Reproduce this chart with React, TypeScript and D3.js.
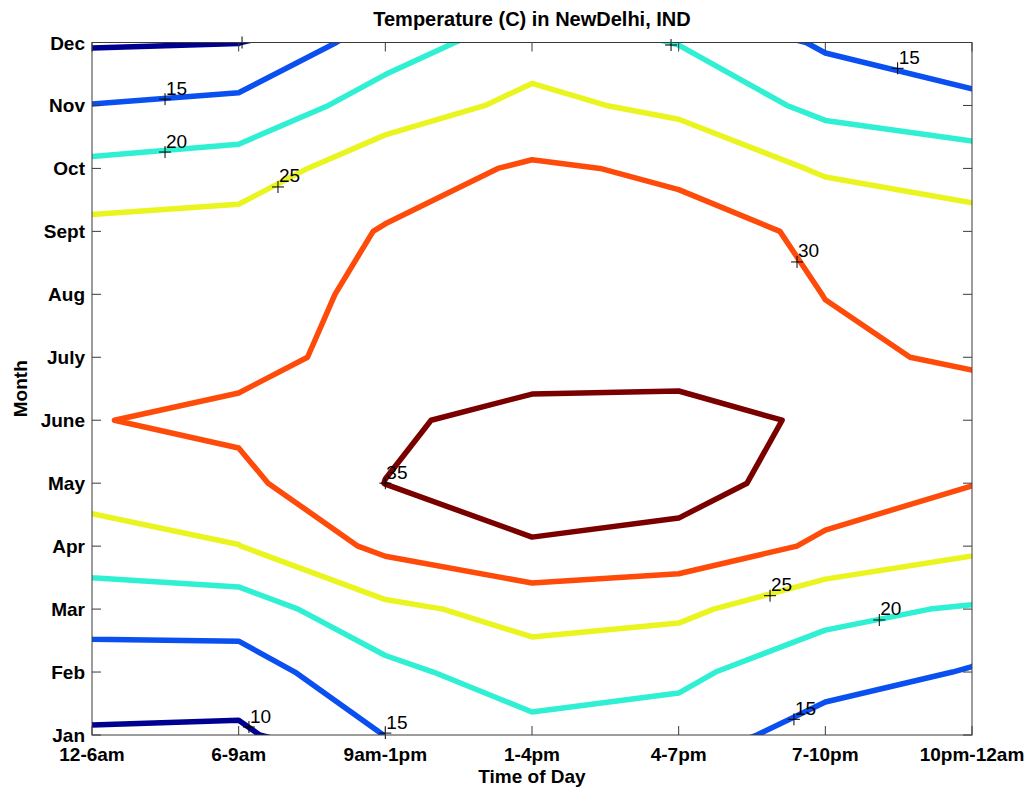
import React from "react";
import * as d3 from "d3";

const times = ["12-6am", "6-9am", "9am-1pm", "1-4pm", "4-7pm", "7-10pm", "10pm-12am"];
const months = ["Jan", "Feb", "Mar", "Apr", "May", "June", "July", "Aug", "Sept", "Oct", "Nov", "Dec"];

// mean temperature (C), one row per month, one column per time slot
const temps: number[][] = [
  [9.52, 9.15, 15.08, 18.36, 18.52, 11.92, 11.5],
  [12.55, 12.75, 18.61, 22.86, 20.74, 17.8, 14.57],
  [17.24, 17.34, 23.9, 26.7, 26.22, 21.1, 19.56],
  [22.78, 24.9, 31.17, 34.65, 32.95, 29.29, 26.02],
  [27.1, 28.73, 35.06, 37.09, 37.55, 32.08, 30.17],
  [29.82, 31.0, 34.17, 36.83, 36.7, 34.29, 31.5],
  [29.65, 28.69, 31.48, 32.43, 33.04, 30.52, 29.62],
  [28.72, 29.12, 30.46, 32.23, 32.07, 29.95, 28.65],
  [26.41, 27.03, 30.27, 31.79, 31.36, 29.39, 27.03],
  [21.14, 22.32, 28.02, 30.6, 29.31, 24.3, 22.56],
  [15.12, 16.29, 22.35, 26.24, 23.79, 18.66, 16.65],
  [9.5, 9.9, 17.56, 22.7, 19.84, 14.27, 10.43],
];

const levels = [10, 15, 20, 25, 30, 35];
const levelColors = ["#000090", "#0a50f0", "#30f0d4", "#eaf520", "#ff4b0a", "#7a0000"];

// clabel spots (time index, month index), text ("" = marker only)
const labelText = ["15", "20", "25", "10", "15", "35", "30", "15", "25", "20", "15", "", ""];
const labelTime = [0.498, 0.498, 1.268, 1.07, 2.0, 2.0, 4.807, 5.493, 4.623, 5.368, 4.786, 3.948, 1.023];
const labelMonth = [10.1, 9.26, 8.705, 0.127, 0.03, 4.0, 7.514, 10.59, 2.213, 1.827, 0.249, 10.96, 11.0];

const W = 1031, H = 791;
const margin = { left: 92, right: 59, top: 42.5, bottom: 56 };
const font = "'Liberation Sans', Arial, Helvetica, sans-serif";

export default function App() {
  const left = margin.left, right = W - margin.right, top = margin.top, bottom = H - margin.bottom;
  const x = d3.scaleLinear().domain([0, times.length - 1]).range([left, right]);
  const y = d3.scaleLinear().domain([0, months.length - 1]).range([bottom, top]);

  const values = temps.flat();
  const contours = d3.contours().size([times.length, months.length]).thresholds(levels)(values);
  const proj = d3.geoTransform({
    point(px: number, py: number) {
      (this as any).stream.point(x(px - 0.5), y(py - 0.5));
    },
  });
  const path = d3.geoPath(proj);
  const tick = 9;
  const axisColor = "#3a3a3a";

  return (
    <svg width={W} height={H} style={{ position: "absolute", left: 0, top: 0, background: "#fff" }} fontFamily={font}>
      <defs>
        <clipPath id="plot"><rect x={left} y={top} width={right - left} height={bottom - top} /></clipPath>
      </defs>
      <rect x={0} y={0} width={W} height={H} fill="#fff" />
      <g clipPath="url(#plot)">
        {contours.map((c, i) => (
          <path key={i} d={path(c as any) || ""} fill="none" stroke={levelColors[i]} strokeWidth={5.5} strokeLinejoin="round" />
        ))}
      </g>

      {/* contour labels */}
      {labelText.map((t, i) => {
        const px = x(labelTime[i]), py = y(labelMonth[i]);
        return (
          <g key={i}>
            <path d={`M${px - 6},${py}H${px + 6}M${px},${py - 6}V${py + 6}`} stroke="#000" strokeWidth={1} />
            {t && <text x={px + 1} y={py - 4.5} fontSize={19} fill="#000">{t}</text>}
          </g>
        );
      })}

      {/* ticks on all four sides */}
      <g stroke={axisColor} strokeWidth={1}>
        {times.map((_, i) => (
          <g key={i}>
            <line x1={x(i)} x2={x(i)} y1={bottom} y2={bottom - tick} />
            <line x1={x(i)} x2={x(i)} y1={top} y2={top + tick} />
          </g>
        ))}
        {months.map((_, i) => (
          <g key={i}>
            <line x1={left} x2={left + tick} y1={y(i)} y2={y(i)} />
            <line x1={right} x2={right - tick} y1={y(i)} y2={y(i)} />
          </g>
        ))}
      </g>
      <rect x={left} y={top} width={right - left} height={bottom - top} fill="none" stroke={axisColor} strokeWidth={1} />

      {months.map((m, i) => (
        <text key={m} x={left - 7} y={y(i) + 7} textAnchor="end" fontSize={19} fontWeight="bold">{m}</text>
      ))}
      {times.map((t, i) => (
        <text key={t} x={x(i)} y={bottom + 26} textAnchor="middle" fontSize={19} fontWeight="bold">{t}</text>
      ))}

      <text x={(left + right) / 2} y={26} textAnchor="middle" fontSize={20} fontWeight="bold">Temperature (C) in NewDelhi, IND</text>
      <text x={(left + right) / 2} y={783} textAnchor="middle" fontSize={19} fontWeight="bold">Time of Day</text>
      <text transform={`translate(27,${(top + bottom) / 2}) rotate(-90)`} textAnchor="middle" fontSize={19} fontWeight="bold">Month</text>
    </svg>
  );
}
